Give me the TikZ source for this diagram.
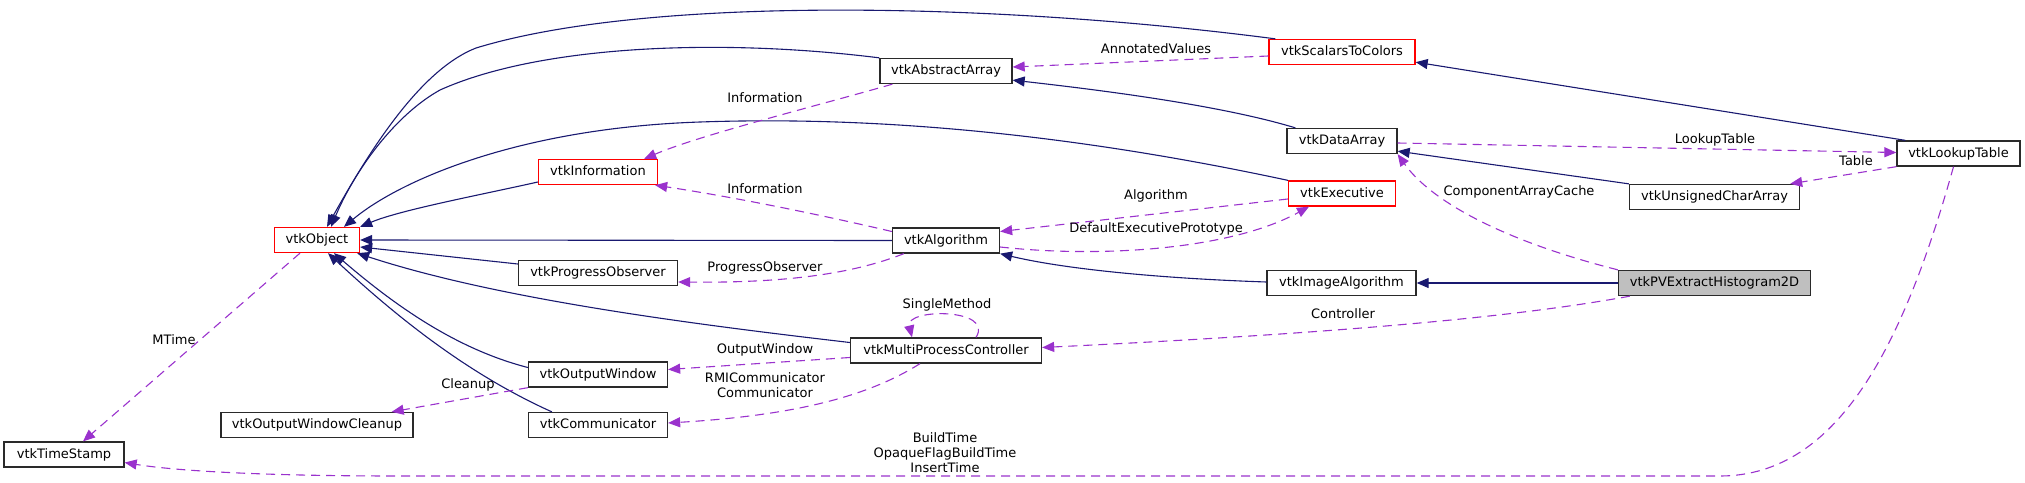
\documentclass[tikz,border=0pt]{standalone}
\usepackage{fontspec}
\setmainfont{DejaVu Sans}
\usetikzlibrary{arrows.meta,calc}
\definecolor{inhcol}{HTML}{191970}
\definecolor{usecol}{HTML}{9A32CD}
\definecolor{hlfill}{HTML}{BFBFBF}
\definecolor{bordercol}{HTML}{2A2A2A}
\begin{document}
\begin{tikzpicture}[x=1pt,y=-1pt,
  cls/.style={draw=bordercol, line width=1.3pt, fill=white, minimum height=25pt, inner sep=0pt,
    font=\fontsize{13}{15}\selectfont, text height=9.5pt, text depth=2.5pt},
  redcls/.style={cls, draw=red},
  hlcls/.style={cls, fill=hlfill},
  inh/.style={draw=inhcol, line width=1.1pt, -{Triangle[length=12pt,width=10pt]}},
  use/.style={draw=usecol, line width=1.1pt, dash pattern=on 9pt off 6pt, -{Triangle[length=12pt,width=10pt]}},
  elab/.style={inner sep=0pt, font=\fontsize{13}{15}\selectfont, align=center},
]
\useasboundingbox (0,0) rectangle (2025,482);

% nodes
\node[redcls, minimum width=85pt]  (obj)  at (317,240)    {vtkObject};
\node[cls, minimum width=120pt]    (ts)   at (64,454.5)   {vtkTimeStamp};
\node[cls, minimum width=192pt]    (owc)  at (317,425)    {vtkOutputWindowCleanup};
\node[redcls, minimum width=119pt] (info) at (598,172)    {vtkInformation};
\node[cls, minimum width=159pt]    (prog) at (598,273)    {vtkProgressObserver};
\node[cls, minimum width=139pt]    (ow)   at (598,374.5)  {vtkOutputWindow};
\node[cls, minimum width=139pt]    (comm) at (598,425)    {vtkCommunicator};
\node[cls, minimum width=132pt]    (aa)   at (946,71)     {vtkAbstractArray};
\node[cls, minimum width=107pt]    (alg)  at (946,240.5)  {vtkAlgorithm};
\node[cls, minimum width=191pt]    (mpc)  at (946,350.5)  {vtkMultiProcessController};
\node[redcls, minimum width=146pt] (s2c)  at (1342,52)    {vtkScalarsToColors};
\node[cls, minimum width=110pt]    (da)   at (1342,141)   {vtkDataArray};
\node[redcls, minimum width=107pt] (exe)  at (1342,193.5) {vtkExecutive};
\node[cls, minimum width=149pt]    (ia)   at (1341.5,283) {vtkImageAlgorithm};
\node[cls, minimum width=123pt]    (lut)  at (1958.5,153.5) {vtkLookupTable};
\node[cls, minimum width=170pt]    (uca)  at (1714.5,197) {vtkUnsignedCharArray};
\node[hlcls, minimum width=192pt]  (pv)   at (1714.5,283) {vtkPVExtractHistogram2D};

% inheritance edges
\draw[inh] ($(s2c.north west)+(7,0)$) .. controls (1000,3) and (650,-5) .. (476,48)
           .. controls (420,70) and (370,150) .. ($(obj.north)+(10,0)$);
\draw[inh] (aa.north west) .. controls (720,38) and (540,45) .. (440,90)
           .. controls (395,115) and (355,170) .. ($(obj.north)+(14,0)$);
\draw[inh] (exe.north west) .. controls (1100,140) and (900,115) .. (700,122)
           .. controls (520,128) and (400,180) .. ($(obj.north)+(27,0)$);
\draw[inh] ($(info.west)+(0,10)$) .. controls (480,195) and (400,210) .. (obj.north east);
\draw[inh] (alg.west) -- (obj.east);
\draw[inh] ($(prog.west)+(0,-9)$) -- ($(obj.east)+(0,7)$);
\draw[inh] ($(mpc.west)+(0,-8)$) .. controls (700,325) and (500,300) .. ($(obj.south east)+(-3,0)$);
\draw[inh] ($(ow.west)+(0,-7)$) .. controls (460,350) and (400,310) .. ($(obj.south)+(17,0)$);
\draw[inh] ($(comm.north west)+(24,0)$) .. controls (470,375) and (400,320) .. ($(obj.south)+(11,0)$);
\draw[inh] ($(da.north west)+(9,0)$) .. controls (1220,105) and (1100,90) .. ($(aa.south east)+(0,-4)$);
\draw[inh] ($(lut.north west)+(9,0)$) -- ($(s2c.south east)+(0,-3)$);
\draw[inh] (uca.north west) -- ($(da.south east)+(0,-3)$);
\draw[inh] ($(ia.west)+(0,-1)$) .. controls (1150,278) and (1060,268) .. (alg.south east);
\draw[inh] (pv.west) -- (ia.east);

% usage edges
\draw[use] ($(obj.south)+(-17,0)$) -- ($(ts.north)+(19,0)$);
\draw[use] ($(aa.south west)+(13,0)$) .. controls (820,105) and (700,135) .. ($(info.north east)+(-14,0)$);
\draw[use] ($(alg.west)+(0,-9)$) .. controls (800,210) and (720,195) .. ($(info.south east)+(-3,0)$);
\draw[use] ($(s2c.west)+(0,4)$) -- ($(aa.east)+(0,-4)$);
\draw[use] ($(exe.west)+(0,5.5)$) -- ($(alg.east)+(0,-9)$);
\draw[use] ($(alg.east)+(0,6.5)$) .. controls (1100,258) and (1230,250) .. ($(exe.south)+(-33,0)$);
\draw[use] ($(alg.south west)+(12,0)$) .. controls (850,275) and (780,283) .. ($(prog.east)+(0,9)$);
\draw[use] ($(mpc.north)+(30,0)$) .. controls (995,308) and (905,308) .. ($(mpc.north)+(-34,0)$);
\draw[use] ($(mpc.west)+(0,7)$) -- ($(ow.east)+(0,-5)$);
\draw[use] ($(mpc.south)+(-26,0)$) .. controls (870,395) and (800,415) .. ($(comm.east)+(0,-2)$);
\draw[use] (ow.south west) -- ($(owc.north east)+(-22,0)$);
\draw[use] ($(da.east)+(0,2)$) -- ($(lut.west)+(0,-1)$);
\draw[use] (lut.south west) -- ($(uca.north east)+(-10,0)$);
\draw[use] (pv.north west) .. controls (1500,240) and (1430,200) .. (da.south east);
\draw[use] ($(pv.south west)+(12,0)$) .. controls (1500,320) and (1300,335) .. ($(mpc.east)+(0,-3)$);
\draw[use] ($(lut.south)+(-5,0)$) .. controls (1905,340) and (1840,476) .. (1720,476)
           -- (400,476) .. controls (250,476) and (170,470) .. ($(ts.east)+(0,8)$);

% edge labels
\node[elab] (lmtime) at (174,340)  {MTime};
\node[elab] (linfo1) at (765,98)   {Information};
\node[elab] (linfo2) at (765,189)  {Information};
\node[elab] (lannot) at (1156,49)  {AnnotatedValues};
\node[elab] (lalgo)  at (1156,196) {Algorithm};
\node[elab] (ldep)   at (1156,229) {DefaultExecutivePrototype};
\node[elab] (lprog)  at (765,268)  {ProgressObserver};
\node[elab] (lsm)    at (947,305)  {SingleMethod};
\node[elab] (lout)   at (765,350)  {OutputWindow};
\node[elab] (lrmi)   at (765,385)  {RMICommunicator\\Communicator};
\node[elab] (lclean) at (468,385)  {Cleanup};
\node[elab] (llut)   at (1715,140) {LookupTable};
\node[elab] (ltab)   at (1856,161) {Table};
\node[elab] (lcac)   at (1519,192) {ComponentArrayCache};
\node[elab] (lctrl)  at (1343,314) {Controller};
\node[elab] (lbuild) at (945,453)  {BuildTime\\OpaqueFlagBuildTime\\InsertTime};
\end{tikzpicture}
\end{document}
